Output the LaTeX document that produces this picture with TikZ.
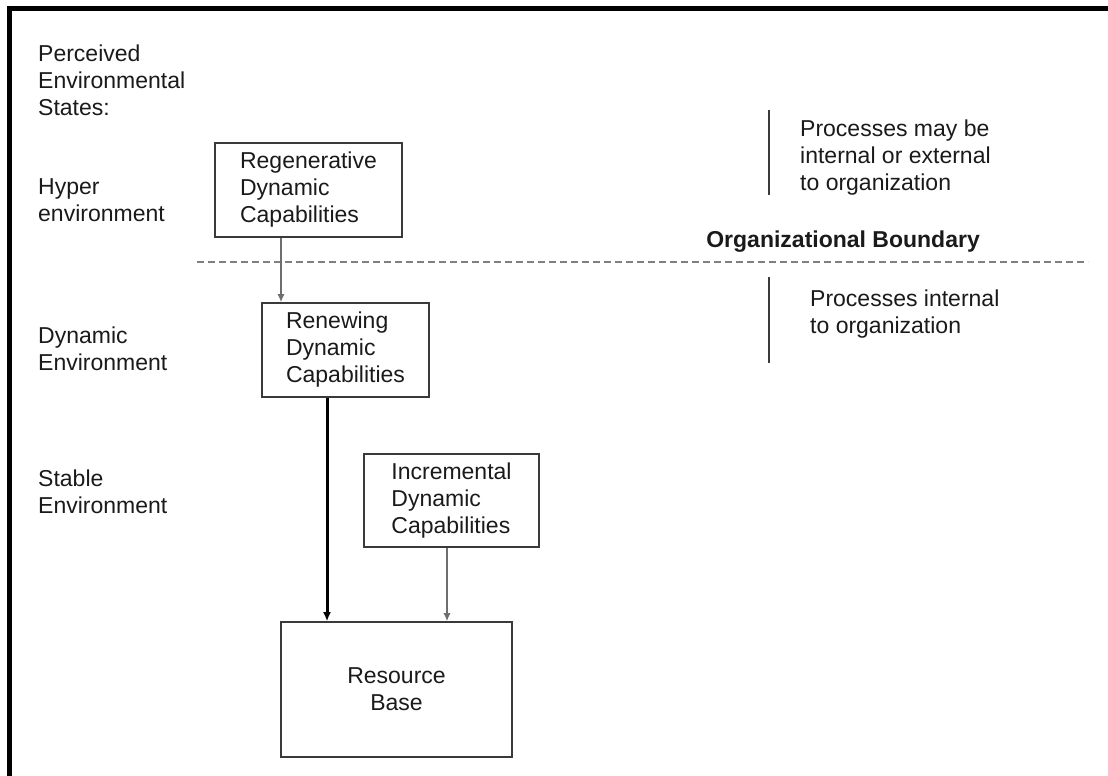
\documentclass[tikz,border=0pt]{standalone}
\usepackage{fontspec}
\setmainfont{Liberation Sans}
\usetikzlibrary{arrows.meta}
\definecolor{ink}{HTML}{1A1A1A}
\definecolor{boxline}{HTML}{3A3A3A}
\definecolor{thinarrow}{HTML}{6E6E6E}
\begin{document}
\begin{tikzpicture}[x=1pt,y=-1pt,
  every node/.style={font=\fontsize{23}{27}\selectfont, text=ink},
  label/.style={anchor=west, align=left, inner sep=0pt},
  capbox/.style={draw=boxline, line width=1.6pt, align=left, inner sep=0pt},
  thinflow/.style={draw=thinarrow, line width=1.3pt, -{Latex[length=8pt,width=7pt]}},
  thickflow/.style={draw=black, line width=3pt, -{Latex[length=9pt,width=8pt]}},
  divider/.style={draw=boxline, line width=1.5pt},
  boundary/.style={draw=gray, line width=1.5pt, dash pattern=on 7pt off 4pt}
]
\useasboundingbox (0,0) rectangle (1108,776);
% outer frame (top and left edges only)
\draw[line width=5pt, line join=miter] (9,776) -- (9,9) -- (1108,9);

% environmental states on the left
\node[label] (states) at (38,80) {Perceived\\Environmental\\States:};
\node[label] (hyper) at (38,200) {Hyper\\environment};
\node[label] (dyn) at (38,349) {Dynamic\\Environment};
\node[label] (stable) at (38,492) {Stable\\Environment};

% capability boxes
\node[capbox, minimum width=187pt, minimum height=94pt] (regen) at (308.5,190) {Regenerative\\Dynamic\\Capabilities};
\node[capbox, minimum width=167pt, minimum height=94pt] (renew) at (345.5,350) {Renewing\\Dynamic\\Capabilities};
\node[capbox, minimum width=175pt, minimum height=93pt] (incr) at (451.5,500.5) {Incremental\\Dynamic\\Capabilities};
\node[capbox, align=center, minimum width=231pt, minimum height=135pt] (res) at (396.5,689.5) {Resource\\Base};

% organizational boundary
\coordinate (bl) at (197,262);
\coordinate (br) at (1088,262);
\draw[boundary] (bl) -- (br);
\node[inner sep=0pt, anchor=base east, font=\fontsize{23}{27}\selectfont\bfseries] (orgb) at (980,247) {Organizational Boundary};

% process notes on the right
\coordinate (d1a) at (769,110);
\coordinate (d1b) at (769,195);
\draw[divider] (d1a) -- (d1b);
\node[label] (extnote) at (800,158) {Processes may be\\internal or external\\to organization};
\coordinate (d2a) at (769,277);
\coordinate (d2b) at (769,363);
\draw[divider] (d2a) -- (d2b);
\node[label] (intnote) at (810,314) {Processes internal\\to organization};

% flows between capabilities
\coordinate (x1) at (281,0);
\coordinate (x2) at (327,0);
\coordinate (x3) at (447,0);
\draw[thinflow] (regen.south -| x1) -- (renew.north -| x1);
\draw[thickflow] (renew.south -| x2) -- (res.north -| x2);
\draw[thinflow] (incr.south -| x3) -- (res.north -| x3);
\end{tikzpicture}
\end{document}
